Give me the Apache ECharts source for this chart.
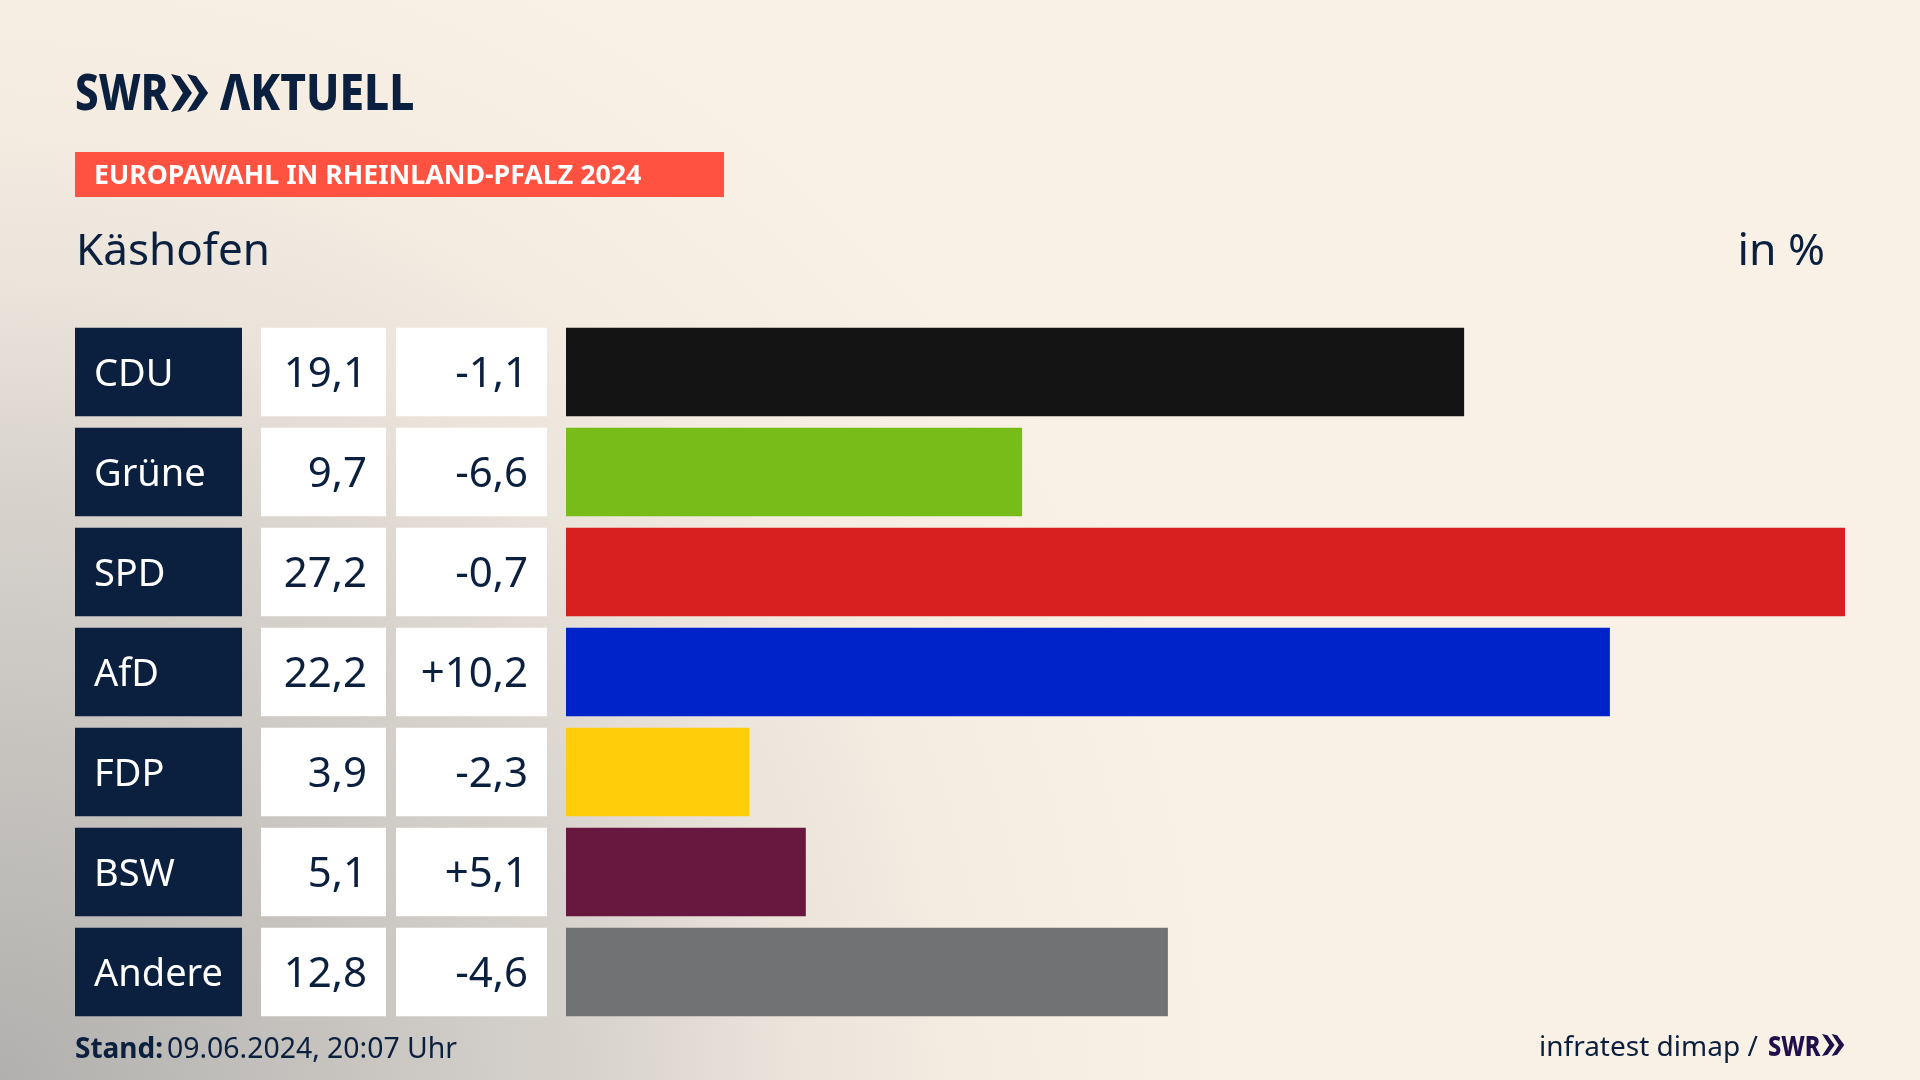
<!DOCTYPE html>
<html lang="de">
<head>
    <meta charset="UTF-8" />
    <title>Europawahl Käshofen</title>
    <style>
        html, body { margin: 0; padding: 0; background: #faf1e6; }
        #main { width: 1920px; height: 1080px; }
    </style>
</head>
<body>
<div id="main"></div>
<script src="https://cdn.jsdelivr.net/npm/echarts@6/dist/echarts.min.js"></script>
<script type="text/javascript">
    // Werte aus der Grafik
    var parties = ['CDU', 'Grüne', 'SPD', 'AfD', 'FDP', 'BSW', 'Andere'];
    var shares = [19.1, 9.7, 27.2, 22.2, 3.9, 5.1, 12.8];
    var changes = [-1.1, -6.6, -0.7, 10.2, -2.3, 5.1, -4.6];
    var barColors = ['#141414', '#78bc1a', '#d8201f', '#0023c9', '#ffcd0a', '#68183e', '#707274'];

    var NAVY = '#0b1f3e';
    var FONT = '"Noto Sans", sans-serif';
    var ROW_H = 88.5;

    function fmt(v) {
        return v.toFixed(1).replace('.', ',');
    }
    function fmtChange(v) {
        return (v > 0 ? '+' : '') + fmt(v);
    }

    // eine Tabellenspalte links neben den Balken
    function cellSeries(x, w, fill, textColor, align, size, textOf) {
        return {
            type: 'custom',
            silent: true,
            data: parties.map(function (p, i) { return i; }),
            encode: { y: 0 },
            renderItem: function (params, api) {
                var i = api.value(0);
                var cy = api.coord([0, i])[1];
                return {
                    type: 'group',
                    children: [{
                        type: 'rect',
                        shape: { x: x, y: cy - ROW_H / 2, width: w, height: ROW_H },
                        style: { fill: fill }
                    }, {
                        type: 'text',
                        style: {
                            x: align === 'left' ? x + 19 : x + w - 19,
                            y: cy + 3,
                            text: textOf(i),
                            fill: textColor,
                            font: size + 'px ' + FONT,
                            textAlign: align,
                            textVerticalAlign: 'middle'
                        }
                    }]
                };
            }
        };
    }

    function label(x, y, text, size, color, weight, align, sx) {
        return {
            type: 'text',
            x: x,
            y: y,
            scaleX: sx || 1,
            style: {
                x: 0,
                y: 0,
                text: text,
                fill: color,
                font: (weight || 400) + ' ' + size + 'px ' + FONT,
                textAlign: align || 'left',
                textVerticalAlign: 'middle'
            }
        };
    }

    function chevrons(x, y, w, h, color) {
        var c = w * 0.34, t = w * 0.26;
        function one(ox) {
            return {
                type: 'polygon',
                shape: { points: [
                    [ox, y], [ox + t, y + h * 0.06], [ox + c + t, y + h / 2],
                    [ox + t, y + h * 0.94], [ox, y + h], [ox + c, y + h / 2]
                ] },
                style: { fill: color }
            };
        }
        return [one(x), one(x + w * 0.46)];
    }

    var myChart = echarts.init(document.getElementById('main'));

    var option = {
        animation: false,
        backgroundColor: new echarts.graphic.RadialGradient(0, 1, 1.15, [
            { offset: 0, color: '#b1b0ae' },
            { offset: 0.26, color: '#c6c3bf' },
            { offset: 0.48, color: '#d8d3cd' },
            { offset: 0.64, color: '#ebe4db' },
            { offset: 0.8, color: '#f6ede2' },
            { offset: 1, color: '#faf1e6' }
        ]),
        grid: { left: 566, right: 75, top: 322, height: 700 },
        xAxis: { type: 'value', min: 0, max: 27.2, show: false },
        yAxis: { type: 'category', data: parties, inverse: true, show: false },
        series: [
            {
                type: 'bar',
                barWidth: ROW_H,
                silent: true,
                data: shares.map(function (v, i) {
                    return { value: v, itemStyle: { color: barColors[i] } };
                })
            },
            cellSeries(75, 167, NAVY, '#ffffff', 'left', 38, function (i) { return parties[i]; }),
            cellSeries(261, 125, '#ffffff', NAVY, 'right', 42, function (i) { return fmt(shares[i]); }),
            cellSeries(396, 151, '#ffffff', NAVY, 'right', 42, function (i) { return fmtChange(changes[i]); })
        ],
        graphic: [
            label(75, 96, 'SWR', 50, NAVY, 800, 'left', 0.84),
            label(220, 96, 'ΛKTUELL', 50, NAVY, 800, 'left', 0.885),
            { type: 'rect', shape: { x: 75, y: 152, width: 649, height: 45 }, style: { fill: '#ff5240' } },
            label(94, 176, 'EUROPAWAHL IN RHEINLAND-PFALZ 2024', 27, '#ffffff', 700, 'left', 0.99),
            label(76, 252, 'Käshofen', 44, NAVY),
            label(1825, 252, 'in %', 44.5, NAVY, 400, 'right'),
            label(75, 1050, 'Stand:', 28, NAVY, 700),
            label(167, 1050, '09.06.2024, 20:07 Uhr', 28.4, NAVY),
            label(1539, 1048, 'infratest dimap /', 28, NAVY),
            label(1768, 1048, 'SWR', 28, '#20104a', 800, 'left', 0.84)
        ].concat(chevrons(171, 74, 35, 38, NAVY), chevrons(1822, 1034, 21, 22, '#20104a'))
    };

    myChart.setOption(option);
</script>
</body>
</html>
